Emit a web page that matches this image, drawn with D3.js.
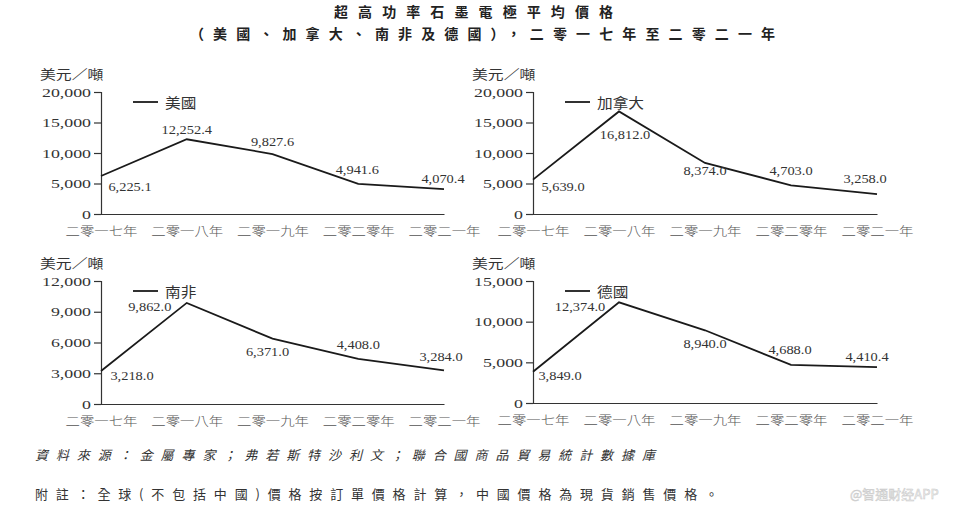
<!DOCTYPE html>
<html><head><meta charset="utf-8">
<script src="https://cdn.jsdelivr.net/npm/d3@7"></script>
<style>
html,body{margin:0;padding:0;background:#fff;}
svg{display:block;}
</style></head>
<body>
<svg id="chart" width="967" height="511"></svg>
<script>
// ---------- DATA ----------
const categories = ["二零一七年","二零一八年","二零一九年","二零二零年","二零二一年"];
const seriesNames = ["美國","加拿大","南非","德國"];
const usValues = [6225.1, 12252.4, 9827.6, 4941.6, 4070.4];
const canadaValues = [5639.0, 16812.0, 8374.0, 4703.0, 3258.0];
const southAfricaValues = [3218.0, 9862.0, 6371.0, 4408.0, 3284.0];
const germanyValues = [3849.0, 12374.0, 8940.0, 4688.0, 4410.4];
const usTicks = [0, 5000, 10000, 15000, 20000];
const canadaTicks = [0, 5000, 10000, 15000, 20000];
const southAfricaTicks = [0, 3000, 6000, 9000, 12000];
const germanyTicks = [0, 5000, 10000, 15000];
const yUnit = "美元／噸";
const titleLine1 = "超高功率石墨電極平均價格";
const titleLine2 = "（美國、加拿大、南非及德國），二零一七年至二零二一年";
const sourceNote = "資料來源：金屬專家；弗若斯特沙利文；聯合國商品貿易統計數據庫";
const footNote = "附註：全球(不包括中國)價格按訂單價格計算，中國價格為現貨銷售價格。";
const watermark = "@智通财经APP";

// ---------- LAYOUT ----------
const panels = [
  {name: seriesNames[0], values: usValues, ticks: usTicks, x0: 101, x1: 444, yTop: 92, yBot: 214,
   offsets: [[29,11],[0,-9],[0,-12],[-1,-14],[-1,-10]]},
  {name: seriesNames[1], values: canadaValues, ticks: canadaTicks, x0: 533, x1: 877, yTop: 92, yBot: 214,
   offsets: [[30,7],[6,24],[0,8],[0,-14],[-12,-15]]},
  {name: seriesNames[2], values: southAfricaValues, ticks: southAfricaTicks, x0: 101, x1: 444, yTop: 281, yBot: 404,
   offsets: [[31,5],[-37,4],[-5,13],[0,-14],[-3,-13]]},
  {name: seriesNames[3], values: germanyValues, ticks: germanyTicks, x0: 533, x1: 877, yTop: 281, yBot: 403,
   offsets: [[27,4],[-39,5],[0,14],[-1,-15],[-10,-10]]}
];
const CJK = "'Noto Sans CJK TC','Noto Sans CJK SC',sans-serif";
const SERIF = "'Liberation Serif','DejaVu Serif',serif";

const svg = d3.select("#chart");

function stretchText(sel, sx) {
  sel.each(function() {
    const w = this.getComputedTextLength();
    d3.select(this).attr("textLength", w * sx).attr("lengthAdjust", "spacingAndGlyphs");
  });
  return sel;
}

// Titles
svg.append("text").attr("x", 334).attr("y", 11).attr("dominant-baseline", "central")
  .attr("font-family", CJK).attr("font-weight", "bold").attr("font-size", 14).attr("fill", "#222")
  .attr("textLength", 279).attr("lengthAdjust", "spacing").text(titleLine1);
svg.append("text").attr("x", 190).attr("y", 33).attr("dominant-baseline", "central")
  .attr("font-family", CJK).attr("font-weight", "bold").attr("font-size", 14).attr("fill", "#222")
  .attr("textLength", 585).attr("lengthAdjust", "spacing").text(titleLine2);

panels.forEach(p => {
  const g = svg.append("g");
  const x = d3.scalePoint().domain(categories).range([p.x0, p.x1]);
  const y = d3.scaleLinear().domain([0, d3.max(p.ticks)]).range([p.yBot, p.yTop]);

  // y axis
  const yAxis = d3.axisLeft(y).tickValues(p.ticks).tickSize(7).tickPadding(3)
    .tickFormat(d3.format(","));
  const ya = g.append("g").attr("transform", `translate(${p.x0},0)`).call(yAxis);
  ya.select(".domain").attr("stroke", "#333").attr("stroke-width", 1.2);
  ya.selectAll(".tick line").attr("stroke", "#333").attr("stroke-width", 1.2);
  const yt = ya.selectAll(".tick text").attr("font-family", SERIF).attr("font-size", 11.5)
    .attr("fill", "#333").attr("dy", "0.35em");
  stretchText(yt, 1.55);

  // x axis
  const xAxis = d3.axisBottom(x).tickSize(0).tickPadding(13);
  const xa = g.append("g").attr("transform", `translate(0,${p.yBot})`).call(xAxis);
  xa.select(".domain").attr("stroke", "#333").attr("stroke-width", 1.2);
  const xt = xa.selectAll(".tick text").attr("font-family", CJK).attr("font-size", 12)
    .attr("font-weight", 300).attr("fill", "#555");
  stretchText(xt, 1.2);

  // unit label
  const ut = g.append("text").attr("x", p.x0 - 61).attr("y", p.yTop - 19)
    .attr("dominant-baseline", "central").attr("font-family", CJK).attr("font-size", 13)
    .attr("fill", "#333").text(yUnit);
  stretchText(ut, 1.22);

  // line
  const line = d3.line().x((d, i) => x(categories[i])).y(d => y(d));
  g.append("path").datum(p.values).attr("d", line).attr("fill", "none")
    .attr("stroke", "#1a1a1a").attr("stroke-width", 1.8).attr("stroke-linejoin", "miter");

  // legend
  g.append("line").attr("x1", p.x0 + 32).attr("x2", p.x0 + 57)
    .attr("y1", p.yTop + 10).attr("y2", p.yTop + 10).attr("stroke", "#1a1a1a").attr("stroke-width", 1.8);
  const lt = g.append("text").attr("x", p.x0 + 64).attr("y", p.yTop + 10)
    .attr("dominant-baseline", "central").attr("font-family", CJK).attr("font-size", 14)
    .attr("fill", "#333").text(p.name);
  stretchText(lt, 1.12);

  // data labels
  const dl = g.selectAll("text.dl").data(p.values).enter().append("text").attr("class", "dl")
    .attr("x", (d, i) => x(categories[i]) + p.offsets[i][0])
    .attr("y", (d, i) => y(d) + p.offsets[i][1])
    .attr("text-anchor", "middle").attr("dominant-baseline", "central")
    .attr("font-family", SERIF).attr("font-size", 12).attr("fill", "#333")
    .text(d => d3.format(",.1f")(d));
  stretchText(dl, 1.2);
});

// footnotes
svg.append("text").attr("x", 35).attr("y", 454).attr("dominant-baseline", "central")
  .attr("font-family", CJK).attr("font-style", "italic").attr("font-size", 13).attr("fill", "#333")
  .attr("textLength", 620).attr("lengthAdjust", "spacing").text(sourceNote);
svg.append("text").attr("x", 35).attr("y", 493).attr("dominant-baseline", "central")
  .attr("font-family", CJK).attr("font-size", 13).attr("fill", "#333")
  .attr("textLength", 683).attr("lengthAdjust", "spacing").text(footNote);

// watermark
svg.append("text").attr("x", 850).attr("y", 493).attr("dominant-baseline", "central")
  .attr("font-family", CJK).attr("font-size", 13).attr("fill", "#f4f4f4")
  .attr("stroke", "#c8c8c8").attr("stroke-width", 0.5).text(watermark);
</script>
</body></html>
